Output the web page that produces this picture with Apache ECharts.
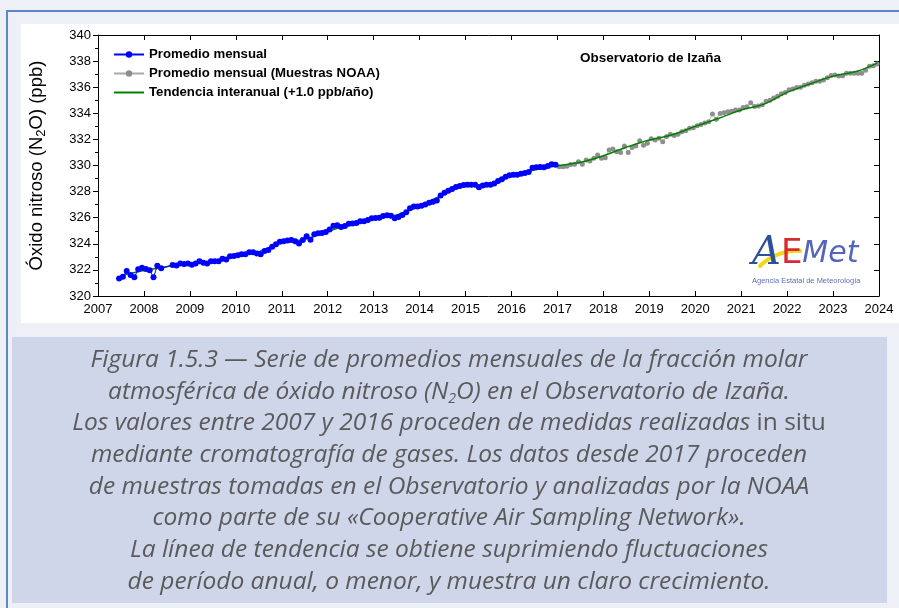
<!DOCTYPE html>
<html>
<head>
<meta charset="utf-8">
<script src="https://cdn.jsdelivr.net/npm/echarts@6/dist/echarts.min.js"></script>
<style>
  html, body { margin: 0; padding: 0; background: #eef0f8; }
  #chart { width: 899px; height: 608px; }
</style>
</head>
<body>
<div id="chart"></div>
<script>
// In-situ monthly means (ppb), first month June 2007, last December 2016
const blueStart = [2007, 6];
const blueVals = [
  321.35,321.48,321.92,321.6,321.43,322.05,322.17,322.07,321.97,321.43,
  322.32,322.12,null,null,322.38,322.33,322.5,322.45,322.5,322.4,
  322.5,322.66,322.55,322.5,322.66,322.66,322.66,322.86,322.8,323.04,
  323.07,323.12,323.19,323.19,323.35,323.35,323.25,323.19,323.45,323.52,
  323.78,323.96,324.16,324.2,324.25,324.29,324.2,324.03,324.29,324.57,
  324.31,324.73,324.8,324.83,324.9,325.1,325.39,325.42,325.28,325.36,
  325.54,325.55,325.6,325.72,325.72,325.82,325.95,325.98,326.0,326.13,
  326.18,326.15,325.95,326.05,326.21,326.42,326.72,326.85,326.85,326.92,
  327.02,327.15,327.22,327.32,327.7,327.92,328.07,328.2,328.35,328.43,
  328.5,328.53,328.53,328.52,328.33,328.46,328.52,328.53,328.63,328.82,
  328.95,329.14,329.25,329.3,329.3,329.37,329.42,329.5,329.83,329.86,
  329.88,329.86,329.96,330.09,330.06
];

// NOAA flask monthly means (ppb), January 2017 to December 2023
const grayStart = [2017, 1];
const grayVals = [
  329.9,329.9,329.95,330.08,330.1,330.29,330.1,330.42,330.35,330.55,
  330.8,330.55,330.6,331.19,331.26,331.05,331.0,331.5,331.0,331.37,
  331.5,331.9,331.55,331.7,332.05,331.95,332.08,331.82,332.22,332.4,
  332.3,332.4,332.59,332.67,332.85,332.9,333.05,333.15,333.25,333.36,
  333.95,333.54,333.98,334.05,334.12,334.15,334.25,334.25,334.45,334.5,
  334.81,334.52,334.55,334.65,334.92,335.0,335.18,335.3,335.5,335.6,
  335.8,335.86,335.98,336.0,336.15,336.25,336.35,336.45,336.45,336.55,
  336.73,336.9,336.93,336.86,336.88,337.06,337.06,337.06,337.06,337.06,
  337.3,337.6,337.65,337.78
];

// Interannual trend nodes (decimal year, ppb)
const trendT = [2007.5,2008.0,2008.5,2009.0,2009.5,2010.0,2010.5,2011.0,2011.5,2012.0,
  2012.5,2013.0,2013.5,2014.0,2014.5,2015.0,2015.5,2016.0,2016.5,2017.0,
  2017.5,2018.0,2018.5,2019.0,2019.5,2020.0,2020.5,2021.0,2021.5,2022.0,
  2022.5,2023.0,2023.5,2023.96];
const trendV = [321.55,321.95,322.25,322.5,322.65,323.05,323.4,324.1,324.35,324.95,
  325.5,325.95,326.2,326.9,327.75,328.45,328.55,329.2,329.65,329.98,
  330.25,330.75,331.4,331.95,332.35,333.0,333.6,334.25,334.7,335.6,
  336.25,336.85,337.2,337.85];

const xTicks = [2007, 2024];
const yRange = [320, 340];

const seriesNames = [
  'Promedio mensual',
  'Promedio mensual (Muestras NOAA)',
  'Tendencia interanual (+1.0 ppb/año)'
];

function monthly(start, vals) {
  return vals.map((v, i) => [start[0] + (start[1] - 1 + i + 0.5) / 12, v]);
}

const chart = echarts.init(document.getElementById('chart'), null, { renderer: 'canvas' });
const axisFont = 'Liberation Sans, Arial, sans-serif';
const capFont = '"Open Sans", "Noto Sans", sans-serif';

const caption = [
  'Figura 1.5.3 — Serie de promedios mensuales de la fracción molar',
  'atmosférica de óxido nitroso (N{s|2}O) en el Observatorio de Izaña.',
  'Los valores entre 2007 y 2016 proceden de medidas realizadas {u|in situ}',
  'mediante cromatografía de gases. Los datos desde 2017 proceden',
  'de muestras tomadas en el Observatorio y analizadas por la NOAA',
  'como parte de su «Cooperative Air Sampling Network».',
  'La línea de tendencia se obtiene suprimiendo fluctuaciones',
  'de período anual, o menor, y muestra un claro crecimiento.'
];

const capSize = 24.5;
const captionTexts = caption.map((line, k) => ({
  type: 'text',
  x: 449, y: 360 + k * 31.7,
  z: 5,
  style: {
    text: line,
    align: 'center', verticalAlign: 'middle',
    font: 'italic ' + capSize + 'px ' + capFont,
    fill: '#5a5a5a',
    rich: {
      s: { font: 'italic 14px ' + capFont, fill: '#5a5a5a', padding: [14, 0, 0, 0] },
      u: { font: 'normal ' + capSize + 'px ' + capFont, fill: '#5a5a5a' }
    }
  }
}));

chart.setOption({
  backgroundColor: '#eef0f8',
  animation: false,
  graphic: [
    { type: 'rect', z: -10, shape: { x: 21, y: 24, width: 878, height: 299 }, style: { fill: '#ffffff' } },
    { type: 'rect', z: -10, shape: { x: 12, y: 337, width: 875, height: 266 }, style: { fill: '#cfd6e9' } },
    { type: 'line', z: 10, shape: { x1: 7, y1: 11, x2: 899, y2: 11 }, style: { stroke: '#5f86c9', lineWidth: 2 } },
    { type: 'line', z: 10, shape: { x1: 7, y1: 10, x2: 7, y2: 608 }, style: { stroke: '#5f86c9', lineWidth: 2 } },
    {
      type: 'text', x: 580, y: 58, z: 5,
      style: { text: 'Observatorio de Izaña', font: 'bold 13.5px ' + axisFont, fill: '#000', verticalAlign: 'middle' }
    },
    // AEMET logotype
    {
      type: 'bezierCurve', z: 6,
      shape: { x1: 760, y1: 266, cpx1: 772, cpy1: 254, x2: 800, y2: 251, cpx2: 788, cpy2: 250 },
      style: { stroke: '#f3d615', lineWidth: 4, lineCap: 'round' }
    },
    {
      type: 'text', x: 752, y: 254, z: 7,
      style: {
        text: '{a|A}{e|E}{m|Met}', verticalAlign: 'middle',
        rich: {
          a: { font: 'italic 40px "DejaVu Serif", serif', fill: '#2c4f9e' },
          e: { font: 'normal 34px "DejaVu Sans", sans-serif', fill: '#d92a2e' },
          m: { font: 'italic 30px "DejaVu Sans", sans-serif', fill: '#5566b8' }
        }
      }
    },
    {
      type: 'text', x: 752, y: 281, z: 7,
      style: { text: 'Agencia Estatal de Meteorología', font: '7.5px ' + axisFont, fill: '#5b6fb8', verticalAlign: 'middle' }
    }
  ].concat(captionTexts),
  legend: {
    orient: 'vertical',
    left: 108, top: 42,
    data: [
      { name: seriesNames[0] },
      { name: seriesNames[1] },
      { name: seriesNames[2], itemStyle: { opacity: 0 } }
    ],
    itemWidth: 30, itemHeight: 8, itemGap: 4,
    textStyle: { fontFamily: axisFont, fontWeight: 'bold', fontSize: 13.2, color: '#000', lineHeight: 15 }
  },
  grid: { left: 98, right: 20, top: 35, bottom: 312, containLabel: false },
  xAxis: [
    {
      type: 'value', min: xTicks[0], max: xTicks[1], interval: 1, position: 'bottom',
      axisLine: { lineStyle: { color: '#000', width: 1 } },
      axisTick: { inside: true, length: 5, lineStyle: { color: '#000' } },
      axisLabel: { color: '#000', fontFamily: axisFont, fontSize: 13, margin: 7, formatter: v => String(v) },
      splitLine: { show: false }
    },
    {
      type: 'value', min: xTicks[0], max: xTicks[1], interval: 1, position: 'top',
      axisLine: { lineStyle: { color: '#000', width: 1 } },
      axisTick: { inside: true, length: 5, lineStyle: { color: '#000' } },
      axisLabel: { show: false },
      splitLine: { show: false }
    }
  ],
  yAxis: [
    {
      type: 'value', min: yRange[0], max: yRange[1], interval: 2, position: 'left',
      name: 'Óxido nitroso (N{s|2}O) (ppb)',
      nameLocation: 'middle', nameGap: 50, nameRotate: 90,
      nameTextStyle: {
        fontFamily: axisFont, fontSize: 18.5, color: '#000',
        rich: { s: { fontFamily: axisFont, fontSize: 13, color: '#000', padding: [10, 0, 0, 0] } }
      },
      axisLine: { show: true, lineStyle: { color: '#000', width: 1 } },
      axisTick: { show: true, length: 5, lineStyle: { color: '#000' } },
      minorTick: { show: true, splitNumber: 2, length: 3, lineStyle: { color: '#000' } },
      axisLabel: { color: '#000', fontFamily: axisFont, fontSize: 13, margin: 7 },
      splitLine: { show: false }
    },
    {
      type: 'value', min: yRange[0], max: yRange[1], interval: 2, position: 'right',
      axisLine: { show: true, lineStyle: { color: '#000', width: 1 } },
      axisTick: { show: true, inside: true, length: 5, lineStyle: { color: '#000' } },
      axisLabel: { show: false },
      splitLine: { show: false }
    }
  ],
  series: [
    {
      name: seriesNames[1], type: 'line', xAxisIndex: 0, yAxisIndex: 0,
      data: monthly(grayStart, grayVals),
      symbol: 'circle', symbolSize: 5, showAllSymbol: true,
      itemStyle: { color: '#8e8e8e' },
      lineStyle: { color: '#a8a8a8', width: 0.8 },
      z: 2
    },
    {
      name: seriesNames[2], type: 'line', xAxisIndex: 0, yAxisIndex: 0,
      data: trendT.map((t, i) => [t, trendV[i]]),
      smooth: 0.4, symbol: 'none',
      itemStyle: { color: '#008000' },
      lineStyle: { color: '#008000', width: 1.5 },
      z: 3
    },
    {
      name: seriesNames[0], type: 'line', xAxisIndex: 0, yAxisIndex: 0,
      data: monthly(blueStart, blueVals),
      connectNulls: true,
      symbol: 'circle', symbolSize: 6, showAllSymbol: true,
      itemStyle: { color: '#0000ff' },
      lineStyle: { color: '#0000ff', width: 1 },
      z: 4
    }
  ]
});
</script>
</body>
</html>
